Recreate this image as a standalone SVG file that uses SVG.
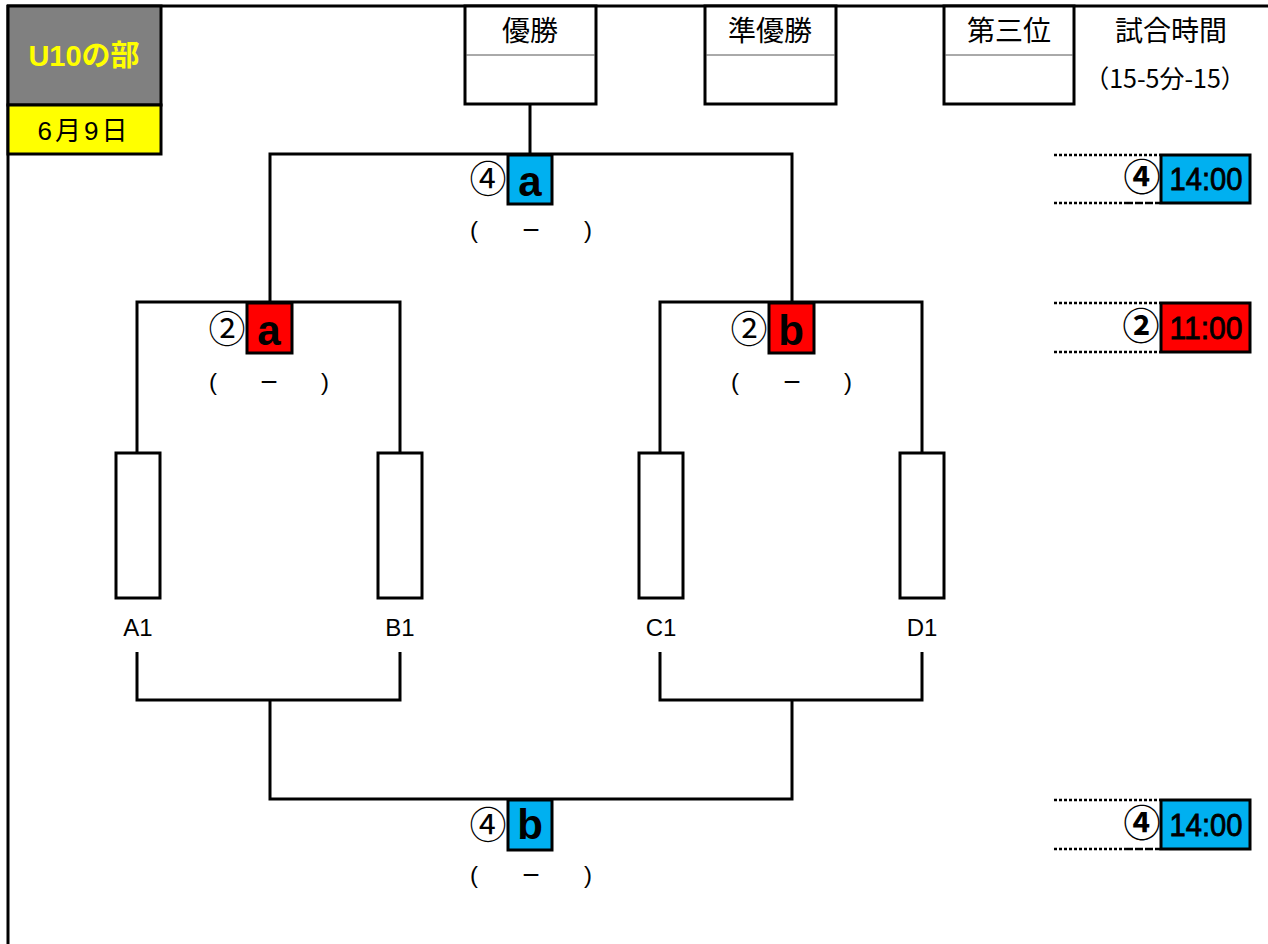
<svg xmlns="http://www.w3.org/2000/svg" width="1268" height="944" viewBox="0 0 1268 944">
<style>
.ln{stroke:#000;stroke-width:3;fill:none}
.bx{stroke:#000;stroke-width:3;fill:#fff}
.dv{stroke:#555;stroke-width:1}
.dot{stroke:#000;stroke-width:2.5;stroke-dasharray:3,2;fill:none}
.jp{font-family:"Noto Sans CJK JP","Liberation Sans",sans-serif;fill:#000}
.lt{font-family:"Liberation Sans","Noto Sans CJK JP",sans-serif;fill:#000}
.hd{font-size:28px;text-anchor:middle}
.cn{font-size:37px;text-anchor:middle}
.cb{font-size:37px;text-anchor:middle;font-weight:bold}
.ab{font-size:42px;font-weight:bold;text-anchor:middle}
.tm{font-size:31px;text-anchor:middle;stroke:#000;stroke-width:0.8}
.pa{font-size:24px;text-anchor:middle}
.mn{font-size:30px;text-anchor:middle}
.tl{font-size:24px;text-anchor:middle}
.blue{fill:#00B0F0;stroke:#000;stroke-width:3}
.red{fill:#FF0000;stroke:#000;stroke-width:3}
</style>
<rect width="1268" height="944" fill="#fff"/>
<g id="frame">
<line class="ln" x1="7" y1="6" x2="1268" y2="6"/>
<line class="ln" x1="8" y1="5" x2="8" y2="944"/>
</g>
<g id="title">
<rect x="8" y="6" width="153" height="99" fill="#808080" stroke="#000" stroke-width="3"/>
<text x="84" y="66" class="lt" style="font-size:29px;font-weight:bold;fill:#FFFF00;text-anchor:middle">U10の部</text>
</g>
<g id="date">
<rect x="8" y="105" width="153" height="49" fill="#FFFF00" stroke="#000" stroke-width="3"/>
<text x="84" y="140" class="lt" style="font-size:26px;text-anchor:middle;letter-spacing:3px">6月9日</text>
</g>
<g id="champion">
<rect class="bx" x="465" y="6" width="131" height="98"/>
<line class="dv" x1="466" y1="55" x2="595" y2="55"/>
<text x="530" y="41" class="jp hd">優勝</text>
</g>
<g id="runnerup">
<rect class="bx" x="705" y="6" width="131" height="98"/>
<line class="dv" x1="706" y1="55" x2="835" y2="55"/>
<text x="770" y="41" class="jp hd">準優勝</text>
</g>
<g id="third">
<rect class="bx" x="944" y="6" width="130" height="98"/>
<line class="dv" x1="945" y1="55" x2="1073" y2="55"/>
<text x="1009" y="41" class="jp hd">第三位</text>
</g>
<g id="matchtime">
<text x="1171" y="41" class="jp hd">試合時間</text>
<text x="1165" y="88" class="jp" style="font-size:25px;text-anchor:middle">（15-5分-15）</text>
</g>
<g id="connectors">
<polyline class="ln" points="530,104 530,154"/>
<polyline class="ln" points="270,302 270,154 792,154 792,302"/>
<polyline class="ln" points="137,453 137,302 400,302 400,453"/>
<polyline class="ln" points="660,453 660,302 922,302 922,453"/>
<polyline class="ln" points="137,652 137,700 400,700 400,652"/>
<polyline class="ln" points="660,652 660,700 922,700 922,652"/>
<polyline class="ln" points="270,700 270,799 792,799 792,700"/>
</g>
<g id="teamA1"><rect class="bx" x="116" y="453" width="44" height="145"/><text x="138" y="636" class="lt tl">A1</text></g>
<g id="teamB1"><rect class="bx" x="378" y="453" width="44" height="145"/><text x="400" y="636" class="lt tl">B1</text></g>
<g id="teamC1"><rect class="bx" x="639" y="453" width="44" height="145"/><text x="661" y="636" class="lt tl">C1</text></g>
<g id="teamD1"><rect class="bx" x="900" y="453" width="44" height="145"/><text x="922" y="636" class="lt tl">D1</text></g>
<g id="match4a">
<text x="488" y="193" class="jp cn">④</text>
<rect class="blue" x="508" y="155" width="44" height="49"/>
<text x="530" y="196" class="lt ab">a</text>
<text x="474" y="238" class="lt pa">(</text><text x="531" y="240" class="lt mn">−</text><text x="588" y="238" class="lt pa">)</text>
</g>
<g id="match2a">
<text x="227" y="343" class="jp cn">②</text>
<rect class="red" x="247" y="303" width="45" height="50"/>
<text x="269" y="345" class="lt ab">a</text>
<text x="213" y="390" class="lt pa">(</text><text x="269" y="392" class="lt mn">−</text><text x="325" y="390" class="lt pa">)</text>
</g>
<g id="match2b">
<text x="749" y="343" class="jp cn">②</text>
<rect class="red" x="769" y="303" width="45" height="50"/>
<text x="791" y="345" class="lt ab">b</text>
<text x="735" y="390" class="lt pa">(</text><text x="792" y="392" class="lt mn">−</text><text x="848" y="390" class="lt pa">)</text>
</g>
<g id="match4b">
<text x="488" y="839" class="jp cn">④</text>
<rect class="blue" x="508" y="800" width="44" height="50"/>
<text x="530" y="839" class="lt ab">b</text>
<text x="474" y="883" class="lt pa">(</text><text x="531" y="885" class="lt mn">−</text><text x="588" y="883" class="lt pa">)</text>
</g>
<g id="time4a">
<line class="dot" x1="1054" y1="155" x2="1160" y2="155"/>
<line class="dot" x1="1054" y1="203" x2="1125" y2="203"/>
<line class="ln" x1="1125" y1="203" x2="1160" y2="203" style="stroke-dasharray:8,2;stroke-width:2.5"/>
<text x="1142" y="191" class="jp cb">④</text>
<rect class="blue" x="1161" y="155" width="89" height="48"/>
<text x="1206" y="190" class="lt tm" textLength="73" lengthAdjust="spacingAndGlyphs">14:00</text>
</g>
<g id="time2">
<line class="dot" x1="1054" y1="303" x2="1160" y2="303"/>
<line class="dot" x1="1054" y1="352" x2="1160" y2="352"/>
<text x="1141" y="340" class="jp cb">②</text>
<rect class="red" x="1161" y="303" width="89" height="49"/>
<text x="1206" y="339" class="lt tm" textLength="73" lengthAdjust="spacingAndGlyphs">11:00</text>
</g>
<g id="time4b">
<line class="dot" x1="1054" y1="800" x2="1160" y2="800"/>
<line class="dot" x1="1054" y1="849" x2="1125" y2="849"/>
<line class="ln" x1="1125" y1="849" x2="1160" y2="849" style="stroke-dasharray:8,2;stroke-width:2.5"/>
<text x="1142" y="837" class="jp cb">④</text>
<rect class="blue" x="1161" y="800" width="89" height="49"/>
<text x="1206" y="836" class="lt tm" textLength="73" lengthAdjust="spacingAndGlyphs">14:00</text>
</g>
</svg>
